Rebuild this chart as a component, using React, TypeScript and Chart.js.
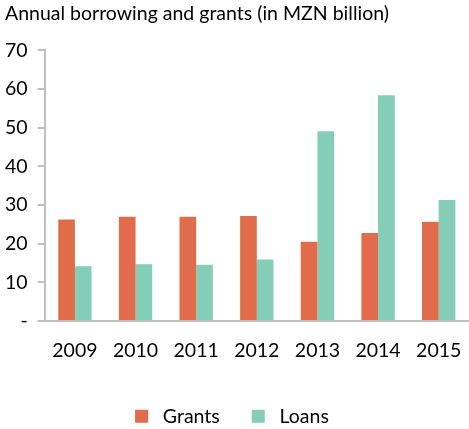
import React, { useEffect, useRef } from "react";
import { Chart, registerables } from "chart.js";

Chart.register(...registerables);

const categories = ["2009", "2010", "2011", "2012", "2013", "2014", "2015"];
const grants = [26.3, 27.0, 27.0, 27.2, 20.5, 22.8, 25.7];
const loans = [14.2, 14.7, 14.6, 15.9, 49.1, 58.4, 31.3];
const yTicks = [0, 10, 20, 30, 40, 50, 60, 70];
const seriesNames = ["Grants", "Loans"];

const FONT = "Lato, 'Open Sans', sans-serif";
const FS = 19.5;

const shiftLegend = {
  id: "shiftLegend",
  afterLayout(chart: any) {
    if (chart.legend) {
      chart.legend.left -= 5;
      chart.legend.right -= 5;
    }
  },
};

export default function App() {
  const ref = useRef<HTMLCanvasElement | null>(null);
  useEffect(() => {
    document.body.style.margin = "0";
    const ctx = ref.current!;
    const chart = new Chart(ctx, {
      type: "bar",
      data: {
        labels: categories,
        datasets: [
          { label: seriesNames[0], data: grants, backgroundColor: "#E06C4C" },
          { label: seriesNames[1], data: loans, backgroundColor: "#84CDB6" },
        ],
      },
      plugins: [shiftLegend],
      options: {
        animation: false,
        responsive: false,
        maintainAspectRatio: false,
        layout: { padding: { left: 5, right: 0, top: 2, bottom: -7 } },
        datasets: { bar: { categoryPercentage: 0.55, barPercentage: 1 } } as any,
        plugins: {
          title: {
            display: true,
            text: "Annual borrowing and grants (in MZN billion)",
            align: "start",
            color: "#000",
            font: { family: FONT, size: FS, weight: "normal" },
            padding: { top: 0, bottom: 25 },
          },
          legend: {
            position: "bottom",
            labels: {
              color: "#000",
              font: { family: FONT, size: FS },
              boxWidth: 13,
              boxHeight: 13,
              padding: 32,
              generateLabels: (c: any) => {
                const items = Chart.defaults.plugins.legend.labels.generateLabels(c);
                return items.map((it: any) => ({ ...it, text: " " + it.text }));
              },
            },
          },
          tooltip: { enabled: false },
        },
        scales: {
          x: {
            grid: { display: false },
            border: { color: "#c0c0c0", width: 2 },
            ticks: { color: "#000", font: { family: FONT, size: FS }, padding: 10, maxRotation: 0 },
            afterFit: (s: any) => {
              s.paddingLeft = 0;
              s.paddingRight = 0;
              s.height += 2;
            },
          },
          y: {
            min: 0,
            max: 70,
            afterBuildTicks: (s: any) => {
              s.ticks = yTicks.map((v) => ({ value: v }));
            },
            afterFit: (s: any) => {
              s.width -= 10;
            },
            grid: { drawOnChartArea: false, drawTicks: true, tickLength: 7, color: "#c0c0c0", lineWidth: 2 },
            border: { color: "#c0c0c0", width: 2 },
            ticks: {
              color: "#000",
              font: { family: FONT, size: FS },
              padding: 10,
              callback: (v: any) => (Number(v) === 0 ? "-" : String(v)),
            },
          },
        },
      },
    });
    return () => chart.destroy();
  }, []);
  return (
    <div style={{ position: "absolute", left: 0, top: 0, width: 469, height: 429 }}>
      <canvas ref={ref} width={469} height={429} />
    </div>
  );
}
